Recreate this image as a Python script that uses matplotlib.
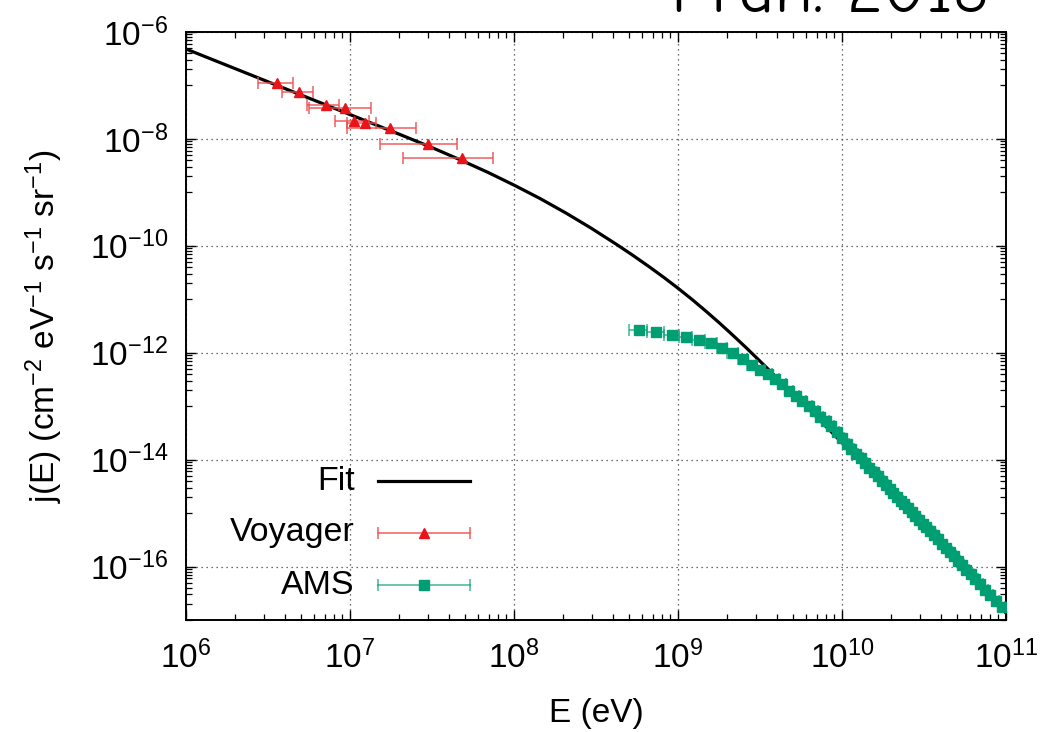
import numpy as np
import matplotlib
matplotlib.use("Agg")
import matplotlib.pyplot as plt
from matplotlib.ticker import FixedLocator, LogLocator, NullFormatter

plt.rcParams['font.family'] = ['Liberation Sans', 'DejaVu Sans']
plt.rcParams['mathtext.fontset'] = 'custom'
plt.rcParams['mathtext.rm'] = 'Liberation Sans'
plt.rcParams['mathtext.it'] = 'Liberation Sans:italic'
plt.rcParams['mathtext.default'] = 'regular'

# ---------------- data ----------------
fit_E = [1.000e6, 4.956e6, 2.018e7, 3.074e7, 4.686e7, 6.942e7, 1.014e8, 1.440e8, 2.076e8,
         2.948e8, 4.188e8, 5.316e8, 6.751e8, 8.215e8, 1.000e9, 1.217e9, 1.481e9, 1.804e9,
         2.165e9, 2.598e9, 3.162e9, 3.690e9, 4.368e9, 5.243e9, 6.380e9, 1.000e10, 3.162e10,
         1.000e11]
fit_j = [4.81e-7, 6.76e-8, 1.209e-8, 7.15e-9, 4.08e-9, 2.364e-9, 1.340e-9, 7.69e-10, 4.10e-10,
         2.151e-10, 1.080e-10, 6.62e-11, 3.963e-11, 2.555e-11, 1.612e-11, 9.96e-12, 5.99e-12,
         3.53e-12, 2.114e-12, 1.251e-12, 6.97e-13, 4.376e-13, 2.61e-13, 1.486e-13, 8.42e-14,
         2.078e-14, 5.24e-16, 1.351e-17]

voy_E = [3.60e6, 4.89e6, 7.11e6, 9.36e6, 1.057e7, 1.24e7, 1.75e7, 3.00e7, 4.82e7]
voy_Elo = [2.74e6, 3.86e6, 5.44e6, 5.65e6, 8.13e6, 9.63e6, 9.63e6, 1.52e7, 2.12e7]
voy_Ehi = [4.48e6, 5.93e6, 8.60e6, 1.34e7, 1.31e7, 1.44e7, 2.54e7, 4.49e7, 7.48e7]
voy_j = [1.10e-7, 7.57e-8, 4.33e-8, 3.80e-8, 2.20e-8, 1.96e-8, 1.63e-8, 8.07e-9, 4.47e-9]

# AMS bin edges (GeV)
ams_lo = [0.50, 0.65, 0.82, 1.01, 1.22, 1.46, 1.72, 2.00, 2.31, 2.65, 3.00, 3.36, 3.73, 4.12,
          4.54, 5.00, 5.49, 6.00, 6.54, 7.10, 7.69, 8.30, 8.94, 9.62, 10.32, 11.04, 11.80,
          12.59, 13.41, 14.25, 15.14, 16.05, 17.00, 17.98, 18.99, 20.04, 21.13, 22.25, 23.42,
          24.62, 25.90, 27.25, 28.68, 30.21, 31.82, 33.53, 35.36, 37.31, 39.39, 41.61, 44.00,
          46.57, 49.33, 52.33, 55.58, 59.13, 63.02, 67.30, 72.05, 77.37, 83.36, 90.19]
ams_hi = [0.65, 0.82, 1.01, 1.22, 1.46, 1.72, 2.00, 2.31, 2.65, 3.00, 3.36, 3.73, 4.12, 4.54,
          5.00, 5.49, 6.00, 6.54, 7.10, 7.69, 8.30, 8.94, 9.62, 10.32, 11.04, 11.80, 12.59,
          13.41, 14.25, 15.14, 16.05, 17.00, 17.98, 18.99, 20.04, 21.13, 22.25, 23.42, 24.62,
          25.90, 27.25, 28.68, 30.21, 31.82, 33.53, 35.36, 37.31, 39.39, 41.61, 44.00, 46.57,
          49.33, 52.33, 55.58, 59.13, 63.02, 67.30, 72.05, 77.37, 83.36, 90.19, 98.10]
ams_j = [2.69e-12, 2.40e-12, 2.17e-12, 1.96e-12, 1.75e-12, 1.51e-12, 1.23e-12, 9.91e-13,
         7.62e-13, 5.99e-13, 4.85e-13, 4.06e-13, 3.27e-13, 2.55e-13, 1.96e-13, 1.56e-13,
         1.26e-13, 1.01e-13, 8.17e-14, 6.41e-14, 5.22e-14, 4.21e-14, 3.22e-14, 2.49e-14,
         1.99e-14, 1.61e-14, 1.30e-14, 1.06e-14, 8.63e-15, 7.11e-15, 5.86e-15, 4.85e-15,
         4.05e-15, 3.38e-15, 2.84e-15, 2.39e-15, 2.02e-15, 1.71e-15, 1.46e-15, 1.24e-15,
         1.05e-15, 8.91e-16, 7.53e-16, 6.37e-16, 5.38e-16, 4.53e-16, 3.81e-16, 3.21e-16,
         2.69e-16, 2.24e-16, 1.87e-16, 1.55e-16, 1.29e-16, 1.06e-16, 8.71e-17, 7.11e-17,
         5.77e-17, 4.65e-17, 3.72e-17, 2.93e-17, 2.29e-17, 1.76e-17]

series_labels = ['Fit', 'Voyager', 'AMS']
x_label = 'E (eV)'
y_label = r'j(E) (cm$^{-2}$ eV$^{-1}$ s$^{-1}$ sr$^{-1}$)'
corner_text = 'Fran. 2018'

# ---------------- styling ----------------
RED = '#e8141a'
RED_BAR = (0.94, 0.30, 0.30, 0.9)
GREEN = '#009e73'
GREEN_BAR = (0.0, 0.62, 0.45, 0.75)
FS = 24

fig = plt.figure(figsize=(10.59, 7.32), dpi=100)
ax = fig.add_axes([0.1756, 0.1530, 0.7743, 0.8033])

ax.set_xscale('log')
ax.set_yscale('log')
ax.set_xlim(1e6, 1e11)
ax.set_ylim(1e-17, 1e-6)

# fit
ax.plot(fit_E, fit_j, color='black', lw=2.3, zorder=3, solid_joinstyle='round')

# voyager
vE = np.array(voy_E)
ax.errorbar(vE, voy_j, xerr=[vE - np.array(voy_Elo), np.array(voy_Ehi) - vE],
            fmt='^', ms=7, color=RED, mec=RED, ecolor=RED_BAR, elinewidth=1.1,
            capsize=4, capthick=1.1, zorder=4)

# AMS
lo = np.array(ams_lo) * 1e9
hi = np.array(ams_hi) * 1e9
aE = (lo + hi) / 2
ax.errorbar(aE, ams_j, xerr=[aE - lo, hi - aE], fmt='s', ms=7.5, color=GREEN, mec=GREEN,
            ecolor=GREEN_BAR, elinewidth=1.1, capsize=4, capthick=1.1, zorder=5)

# ticks
ax.xaxis.set_major_locator(FixedLocator([10.0 ** k for k in range(6, 12)]))
ax.xaxis.set_minor_locator(LogLocator(base=10, subs=np.arange(2, 10), numticks=20))
ax.xaxis.set_minor_formatter(NullFormatter())
ax.yaxis.set_major_locator(FixedLocator([10.0 ** k for k in range(-16, -5, 2)]))
ymin = [m * 10.0 ** k for k in range(-17, -6, 2) for m in range(1, 10)]
ax.yaxis.set_minor_locator(FixedLocator(ymin))
ax.yaxis.set_minor_formatter(NullFormatter())

ax.tick_params(which='both', direction='in', top=True, right=True, labelsize=FS)
ax.tick_params(which='major', length=7, width=1.0)
ax.tick_params(which='minor', length=4, width=0.9)
ax.tick_params(axis='x', which='major', pad=15)
ax.tick_params(axis='y', which='major', pad=13)
for s in ax.spines.values():
    s.set_linewidth(1.4)

ax.grid(True, which='major', color='0.25', lw=0.9, linestyle=(0, (1, 3)))
ax.set_axisbelow(True)

ax.set_xlabel(x_label, fontsize=FS, labelpad=16)
ax.set_ylabel(y_label, fontsize=FS, labelpad=18)

# gnuplot-style legend (text right aligned, sample to the right)
tx, x1, x2, xm = 0.206, 0.234, 0.346, 0.290
rows = [0.236, 0.148, 0.0595]
ax.text(tx, rows[0], series_labels[0], transform=ax.transAxes, ha='right', va='center',
        fontsize=FS + 0.5)
ax.plot([x1, x2], [rows[0]] * 2, transform=ax.transAxes, color='black', lw=2.3, clip_on=False)
for r, lab, col, bar, mk in [(rows[1], series_labels[1], RED, RED_BAR, '^'),
                             (rows[2], series_labels[2], GREEN, GREEN_BAR, 's')]:
    ax.text(tx, r, lab, transform=ax.transAxes, ha='right', va='center', fontsize=FS + 0.5)
    ax.plot([x1, x2], [r, r], transform=ax.transAxes, color=bar, lw=1.1)
    ax.plot([x1, x2], [r, r], transform=ax.transAxes, ls='none', marker='|', ms=8,
            mew=1.1, color=bar)
    ax.plot([xm], [r], transform=ax.transAxes, ls='none', marker=mk, ms=7, color=col)

fig.text(0.784, 1.0 - 12 / 732, corner_text, ha='center', va='baseline', fontsize=50,
         family=['Comic Neue', 'DejaVu Sans'])

fig.savefig('out.png', dpi=100)
